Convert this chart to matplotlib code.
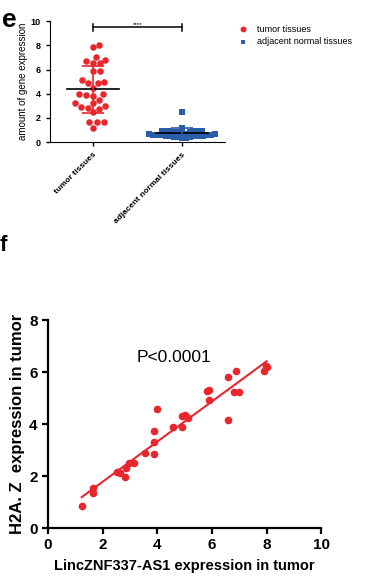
import numpy as np
import matplotlib
matplotlib.use("Agg")
import matplotlib.pyplot as plt

plt.rcParams['font.family'] = ['Liberation Sans', 'DejaVu Sans']

# panel e: expression values per group
tumor_vals = [8.0, 7.87, 7.0, 6.7, 6.5, 6.5, 6.8, 5.9, 5.9, 5.1, 4.9, 4.9, 5.0, 4.5,
              3.95, 3.8, 3.95, 3.87, 3.5, 3.2, 3.2, 2.9, 2.76, 2.85, 2.95, 2.5,
              1.66, 1.66, 1.66, 1.2]
normal_vals = [2.5, 1.2, 0.95, 0.95, 0.95, 0.95, 0.95, 0.95, 0.85, 0.85, 0.85,
               0.7, 0.7, 0.7, 0.7, 0.6, 0.6, 0.6, 0.6, 0.6, 0.5, 0.5, 0.5, 0.5, 0.5,
               0.4, 0.4, 0.4, 0.3, 0.3]
groups = ["tumor tissues", "adjacent normal tissues"]

# panel f: LincZNF337-AS1 vs H2A.Z in tumor
linc_x = [1.23, 1.66, 1.66, 2.54, 2.62, 2.80, 2.85, 2.97, 3.15, 3.55, 3.89, 3.89, 3.89,
          3.98, 4.59, 4.90, 4.90, 5.02, 5.12, 5.81, 5.91, 5.88, 6.57, 6.60, 6.89,
          6.79, 7.00, 7.90, 7.98, 8.00]
h2az_y = [0.86, 1.53, 1.36, 2.14, 2.12, 1.97, 2.30, 2.49, 2.49, 2.87, 2.85, 3.32, 3.74,
          4.58, 3.87, 3.90, 4.30, 4.36, 4.22, 5.26, 5.32, 4.92, 5.80, 4.16, 6.04,
          5.22, 5.22, 6.04, 6.25, 6.18]

RED = '#e8262b'
BLUE = '#2b5dab'


def swarm(ax, xc, vals, d):
    # simple beeswarm in pixel space, d = marker spacing in px
    pts = ax.transData.transform([(xc, v) for v in vals])
    cx = pts[0][0]
    order = np.argsort([p[1] for p in pts])
    placed = []
    out = [None] * len(vals)
    for i in order:
        py = pts[i][1]
        cands = [0.0]
        for qx, qy in placed:
            dy = abs(qy - py)
            if dy < d:
                dx = np.sqrt(d * d - dy * dy)
                cands += [qx - cx + dx, qx - cx - dx]
        cands.sort(key=abs)
        for off in cands:
            if all((cx + off - qx) ** 2 + (py - qy) ** 2 >= d * d - 1e-6 for qx, qy in placed):
                break
        placed.append((cx + off, py))
        out[i] = ax.transData.inverted().transform((cx + off, py))
    return np.array(out)


fig = plt.figure(figsize=(3.73, 5.87), dpi=100)

# ---- panel e ----
ax1 = fig.add_axes([0.134, 0.758, 0.469, 0.206])
ax1.set_xlim(-0.48, 1.48)
ax1.set_ylim(0, 10)
for i, (vals, col, mk, d, s) in enumerate([(tumor_vals, RED, 'o', 6.8, 22),
                                           (normal_vals, BLUE, 's', 4.2, 13)]):
    xy = swarm(ax1, i, vals, d)
    ax1.scatter(xy[:, 0], xy[:, 1], s=s, c=col, marker=mk, linewidths=0,
                label=groups[i], zorder=2)
    m, sd = np.mean(vals), np.std(vals, ddof=1)
    ax1.plot([i - 0.29, i + 0.29], [m, m], color='black', lw=1.2, zorder=3)
    ax1.errorbar(i, m, yerr=sd, color=col, capsize=8, lw=1.2, capthick=1.2, zorder=3)

ax1.plot([0, 1], [9.5, 9.5], color='black', lw=1.1, clip_on=False)
ax1.plot([0, 0], [9.2, 9.8], color='black', lw=1.1, clip_on=False)
ax1.plot([1, 1], [9.2, 9.8], color='black', lw=1.1, clip_on=False)
ax1.text(0.5, 9.55, '****', ha='center', va='bottom', fontsize=4.5)

ax1.spines[['top', 'right']].set_visible(False)
ax1.set_yticks([0, 2, 4, 6, 8, 10])
ax1.set_xticks([0, 1])
ax1.set_xticklabels(groups, rotation=45, ha='right', rotation_mode='anchor',
                    fontsize=6, fontweight='bold')
ax1.tick_params(axis='y', labelsize=6.5, length=3, width=1)
ax1.tick_params(axis='x', length=3, width=1)
for t in ax1.get_yticklabels():
    t.set_fontweight('bold')
ax1.set_ylabel('amount of gene expression', fontsize=7, labelpad=2)
ax1.legend(loc='upper left', bbox_to_anchor=(1.03, 1.0), frameon=False, fontsize=6.5,
           handletextpad=0.6, borderaxespad=0, labelspacing=0.4, markerscale=0.9)
fig.text(0.005, 0.966, 'e', fontsize=19, fontweight='bold', va='center')

# ---- panel f ----
ax2 = fig.add_axes([0.129, 0.1005, 0.732, 0.354])
ax2.scatter(linc_x, h2az_y, s=30, c=RED, linewidths=0, zorder=2)
k, b = np.polyfit(linc_x, h2az_y, 1)
xs = np.array([min(linc_x), max(linc_x)])
ax2.plot(xs, k * xs + b, color=RED, lw=1.5, zorder=1)
ax2.set_xlim(0, 10)
ax2.set_ylim(0, 8)
ax2.set_xticks(range(0, 11, 2))
ax2.set_yticks(range(0, 9, 2))
ax2.spines[['top', 'right']].set_visible(False)
ax2.spines[['left', 'bottom']].set_linewidth(1.6)
ax2.tick_params(labelsize=11, length=4, width=1.6)
for t in ax2.get_xticklabels() + ax2.get_yticklabels():
    t.set_fontweight('bold')
ax2.set_xlabel('LincZNF337-AS1 expression in tumor', fontsize=10.5, fontweight='bold', labelpad=5)
ax2.set_ylabel('H2A. Z  expression in tumor', fontsize=12, fontweight='bold', labelpad=3)
ax2.text(3.25, 6.55, 'P<0.0001', fontsize=12.5, va='center')
fig.text(0.0, 0.582, 'f', fontsize=16, fontweight='bold', va='center')

fig.savefig('out.png', dpi=100)
